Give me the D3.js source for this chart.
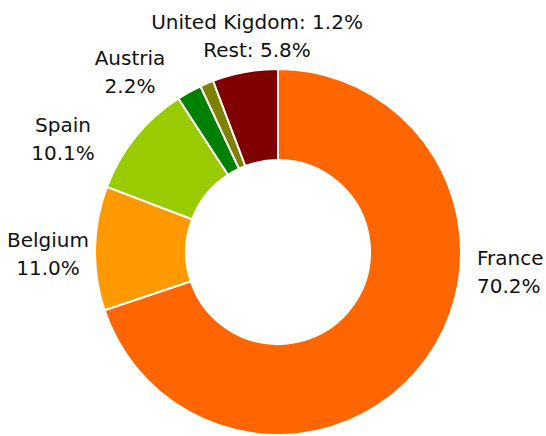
<!DOCTYPE html>
<html>
<head>
<meta charset="utf-8">
<script src="https://cdn.jsdelivr.net/npm/d3@7"></script>
<style>
  body { margin: 0; background: #fff; }
  text { font-family: "DejaVu Sans", Verdana, sans-serif; font-size: 20px; fill: #111; }
</style>
</head>
<body>
<div id="chart"></div>
<script>
var countries = ["France", "Belgium", "Spain", "Austria", "United Kigdom", "Rest"];
var shares = [70.2, 11.0, 10.1, 2.2, 1.2, 5.8];
var colors = ["#FF6600", "#FF9900", "#99CC00", "#008000", "#808000", "#800000"];

var width = 546, height = 436;
var cx = 278, cy = 252;
var outerR = 183, innerR = 92;

var svg = d3.select("#chart").append("svg")
    .attr("width", width)
    .attr("height", height);

var g = svg.append("g")
    .attr("transform", "translate(" + cx + "," + cy + ")");

var pie = d3.pie().sort(null).value(function(d) { return d; });
var arc = d3.arc().innerRadius(innerR).outerRadius(outerR);
var arcs = pie(shares);

g.selectAll("path")
    .data(arcs)
    .enter()
    .append("path")
    .attr("d", arc)
    .attr("fill", function(d, i) { return colors[i]; })
    .attr("stroke", "#fff")
    .attr("stroke-width", 2);

// label anchors (Excel "best fit" style), first-line baseline relative to centre
var labelSpots = [
    { x: 199, y: 13, anchor: "start" },    // France
    { x: -230, y: -5, anchor: "middle" },  // Belgium
    { x: -215, y: -120, anchor: "middle" }, // Spain
    { x: -148, y: -187, anchor: "middle" }  // Austria
];

labelSpots.forEach(function(p, i) {
    var t = g.append("text")
        .attr("text-anchor", p.anchor)
        .attr("transform", "translate(" + p.x + "," + p.y + ")");
    t.append("tspan").attr("x", 0).attr("y", 0).text(countries[i]);
    t.append("tspan").attr("x", 0).attr("y", 28).text(shares[i].toFixed(1) + "%");
});

// the two small slices share a stacked label on top
var topLabel = g.append("text")
    .attr("text-anchor", "middle")
    .attr("transform", "translate(" + (-21) + "," + (-223) + ")");
topLabel.append("tspan").attr("x", 0).attr("y", 0).text(countries[4] + ": " + shares[4].toFixed(1) + "%");
topLabel.append("tspan").attr("x", 0).attr("y", 28).text(countries[5] + ": " + shares[5].toFixed(1) + "%");
</script>
</body>
</html>
